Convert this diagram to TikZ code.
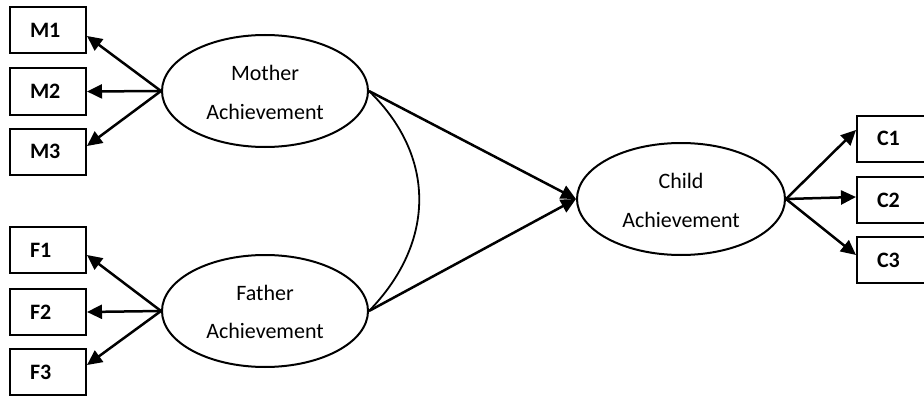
\documentclass[tikz,border=0pt]{standalone}
\usepackage{fontspec}
\setmainfont{Carlito}
\usetikzlibrary{arrows.meta,shapes.geometric}
\begin{document}
\begin{tikzpicture}[x=1pt,y=-1pt,
 ind/.style={draw,line width=2pt,minimum height=46pt,text width=36pt,inner xsep=20pt,inner ysep=0pt,align=left,
   font=\fontsize{22}{26}\selectfont\bfseries},
 lat/.style={draw,ellipse,line width=2pt,minimum width=206pt,minimum height=112pt,inner sep=0pt},
 lbl/.style={font=\fontsize{22}{26}\selectfont,inner sep=0pt,anchor=base},
 arr/.style={line width=2.5pt,-{Triangle[length=15pt,width=14pt]}},
 cov/.style={line width=1.8pt}]
\useasboundingbox (0,0) rectangle (924,396);
\clip (0,0) rectangle (924,396);
% indicators
\node[ind] (m1) at (48,30) {M1};
\node[ind] (m2) at (48,91.5) {M2};
\node[ind] (m3) at (48,151.5) {M3};
\node[ind] (f1) at (48,250) {F1};
\node[ind] (f2) at (48,312) {F2};
\node[ind] (f3) at (48,372) {F3};
\node[ind] (c1) at (895,138.5) {C1};
\node[ind] (c2) at (895,200) {C2};
\node[ind] (c3) at (895,260) {C3};
% latent variables
\node[lat] (mother) at (265,91) {};
\node[lbl] (mothera) at (265,81) {Mother};
\node[lbl] (motherb) at (265,119) {Achievement};
\node[lat] (father) at (265,311) {};
\node[lbl] (fathera) at (265,300) {Father};
\node[lbl] (fatherb) at (265,338) {Achievement};
\node[lat,minimum width=208pt] (child) at (681,199) {};
\node[lbl] (childa) at (681,188) {Child};
\node[lbl] (childb) at (681,227) {Achievement};
% loadings
\draw[arr] (mother.west) -- ([yshift=-6pt]m1.east);
\draw[arr] (mother.west) -- (m2.east);
\draw[arr] (mother.west) -- ([yshift=5.5pt]m3.east);
\draw[arr] (father.west) -- ([yshift=-5pt]f1.east);
\draw[arr] (father.west) -- (f2.east);
\draw[arr] (father.west) -- ([yshift=7pt]f3.east);
\draw[arr] (child.east) -- ([yshift=8.5pt]c1.west);
\draw[arr] (child.east) -- ([yshift=3pt]c2.west);
\draw[arr] (child.east) -- ([yshift=5pt]c3.west);
% structural paths
\draw[arr] (mother.east) -- (child.west);
\draw[arr] (father.east) -- (child.west);
% covariance
\draw[cov] (mother.east) .. controls ([shift={(67,65)}]mother.east) and ([shift={(67,-69)}]father.east) .. (father.east);
\end{tikzpicture}
\end{document}
